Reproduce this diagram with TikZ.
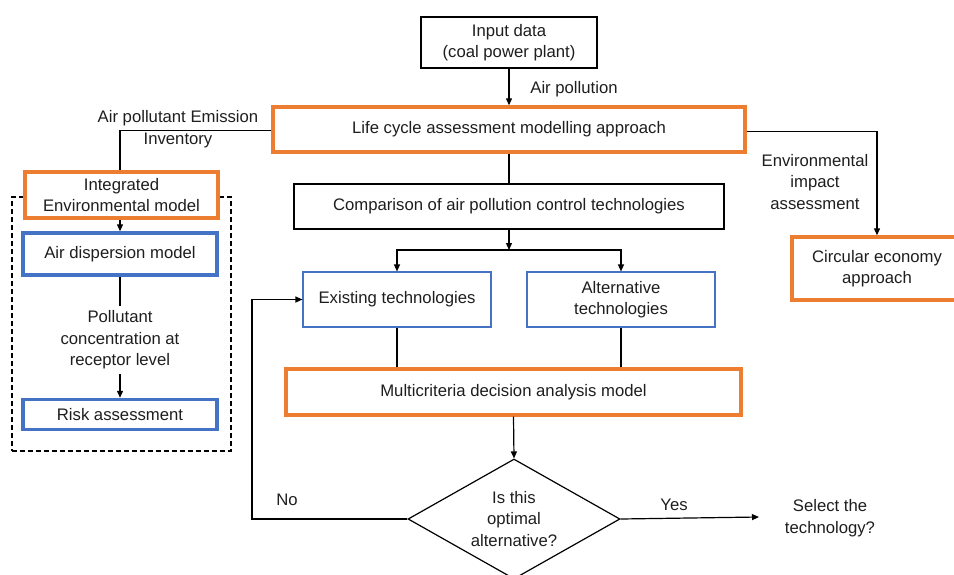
\documentclass[tikz,border=0pt]{standalone}
\usepackage{fontspec}
\setmainfont{Liberation Sans}
\usetikzlibrary{arrows.meta, shapes.geometric}
\definecolor{lcaorange}{HTML}{ED7D31}
\definecolor{modelblue}{HTML}{4472C4}
\definecolor{inkgray}{HTML}{1E1E1E}

\tikzstyle{black_box} = [
    draw=black, 
    line width=2.2pt, 
    fill=white, 
    align=center, 
    inner sep=0pt
]
\tikzstyle{orange_box} = [
    draw=lcaorange, 
    line width=3.4pt, 
    fill=white, 
    align=center, 
    inner sep=0pt
]
\tikzstyle{blue_box} = [
    draw=modelblue, 
    line width=3.4pt, 
    fill=white, 
    align=center, 
    inner sep=0pt
]
\tikzstyle{tech_box} = [
    draw=modelblue, 
    line width=1.1pt, 
    fill=white, 
    align=center, 
    inner sep=0pt
]
\tikzstyle{decision} = [
    diamond, 
    draw=black, 
    line width=1.2pt, 
    inner sep=0pt, 
    minimum width=212pt, 
    minimum height=120pt
]
\tikzstyle{group_box} = [
    draw=black, 
    line width=1.1pt, 
    dash pattern=on 5pt off 3pt, 
    inner sep=0pt
]
\tikzstyle{note} = [
    align=center, 
    inner sep=0pt
]
\tikzstyle{link} = [line width=1.2pt]
\tikzstyle{flow} = [line width=1.2pt, -{Triangle[length=7pt, width=6pt]}]

\begin{document}
\begin{tikzpicture}[
    x=1pt, y=-1pt, 
    font=\fontsize{16.7}{21.5}\selectfont, 
    text=inkgray
]
\useasboundingbox (0,0) rectangle (954,574);

% left group (dashed)
\node [group_box, minimum width=219pt, minimum height=254pt] (group) at (121.5,324) {};

\node [black_box, minimum width=176pt, minimum height=51pt] (input) at (509,42.5) {Input data\\(coal power plant)};
\node [orange_box, minimum width=472pt, minimum height=45pt] (lca) at (509,129.5) {Life cycle assessment modelling approach};
\node [black_box, minimum width=430pt, minimum height=45pt] (compare) at (509,206.5) {Comparison of air pollution control technologies};
\node [tech_box, minimum width=188pt, minimum height=55pt] (existing) at (397,299.5) {Existing technologies};
\node [tech_box, minimum width=188pt, minimum height=55pt] (alternative) at (621,299.5) {Alternative\\technologies};
\node [orange_box, minimum width=455pt, minimum height=46pt] (mcda) at (513.5,392) {Multicriteria decision analysis model};
\node [decision, label={[note]center:Is this\\optimal\\alternative?}] (decide) at (514,519) {};
\node [orange_box, minimum width=170pt, minimum height=63pt] (circular) at (877,268.5) {Circular economy\\approach};

\node [orange_box, minimum width=193pt, minimum height=46pt] (integrated) at (121.5,195) {Integrated\\Environmental model};
\node [blue_box, minimum width=194pt, minimum height=42pt] (dispersion) at (120,254) {Air dispersion model};
\node [note, inner sep=5pt] (conc) at (120,340) {Pollutant\\concentration at\\receptor level};
\node [blue_box, minimum width=194pt, minimum height=30pt] (risk) at (120,414.5) {Risk assessment};

% labels
\node [note] (airpol) at (574,89) {Air pollution};
\node [note] (emission) at (178,129) {Air pollutant Emission\\Inventory};
\node [note] (envimpact) at (815,182) {Environmental\\impact\\assessment};
\node [note] (no) at (287,500) {No};
\node [note] (yes) at (674,505) {Yes};
\node [note] (select) at (830,518) {Select the\\technology?};

\coordinate (split) at (509,250);
\coordinate (back) at (252,519);
\coordinate (chosen) at (759,517);

\draw [flow] (input) -- (lca);
\draw [link] (lca) -- (compare);
\draw [flow] (compare) -- (split);
\draw [flow] (split) -| (existing);
\draw [flow] (split) -| (alternative);
\draw [link] (existing.south) -- (existing.south |- mcda.north);
\draw [link] (alternative.south) -- (alternative.south |- mcda.north);
\draw [flow] (mcda.south) -- (decide.north);
\draw [flow] (decide.west) -- (back) |- (existing.west);
\draw [flow] (decide.east) -- (chosen);
\draw [flow] ([yshift=-2pt]lca.east) -| (circular.north);
\draw [link] ([yshift=-1pt]lca.west) -| (integrated.north -| dispersion.north);
\draw [flow] (integrated.south -| dispersion.north) -- (dispersion.north);
\draw [link] (dispersion) -- (conc);
\draw [flow] (conc) -- (risk);
\end{tikzpicture}
\end{document}
